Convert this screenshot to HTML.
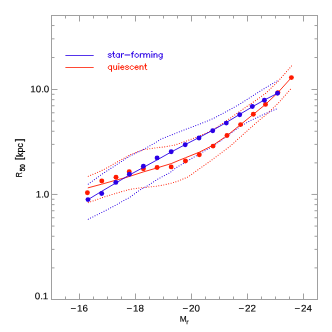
<!DOCTYPE html>
<html><head><meta charset="utf-8"><title>R50 vs Mr</title>
<style>
html,body{margin:0;padding:0;background:#fff;}
body{width:332px;height:332px;position:relative;overflow:hidden;font-family:"Liberation Sans",sans-serif;}
</style></head><body>
<svg width="332" height="332" viewBox="0 0 332 332" style="position:absolute;left:0;top:0">
<rect x="51.50" y="15.50" width="266.00" height="284.00" fill="none" stroke="#a0a0a0" stroke-width="1.00"/>
<path d="M65.50 299.50V296.50M65.50 15.50V18.50M79.50 299.50V293.50M79.50 15.50V21.50M93.50 299.50V296.50M93.50 15.50V18.50M107.50 299.50V296.50M107.50 15.50V18.50M121.50 299.50V296.50M121.50 15.50V18.50M135.50 299.50V293.50M135.50 15.50V21.50M149.50 299.50V296.50M149.50 15.50V18.50M163.50 299.50V296.50M163.50 15.50V18.50M177.50 299.50V296.50M177.50 15.50V18.50M191.50 299.50V293.50M191.50 15.50V21.50M205.50 299.50V296.50M205.50 15.50V18.50M219.50 299.50V296.50M219.50 15.50V18.50M233.50 299.50V296.50M233.50 15.50V18.50M247.50 299.50V293.50M247.50 15.50V21.50M261.50 299.50V296.50M261.50 15.50V18.50M275.50 299.50V296.50M275.50 15.50V18.50M289.50 299.50V296.50M289.50 15.50V18.50M303.50 299.50V293.50M303.50 15.50V21.50M51.50 267.88H54.50M317.50 267.88H314.50M51.50 249.38H54.50M317.50 249.38H314.50M51.50 236.25H54.50M317.50 236.25H314.50M51.50 226.07H54.50M317.50 226.07H314.50M51.50 217.76H54.50M317.50 217.76H314.50M51.50 210.72H54.50M317.50 210.72H314.50M51.50 204.63H54.50M317.50 204.63H314.50M51.50 199.26H54.50M317.50 199.26H314.50M51.50 194.45H57.50M317.50 194.45H311.50M51.50 162.86H54.50M317.50 162.86H314.50M51.50 144.38H54.50M317.50 144.38H314.50M51.50 131.26H54.50M317.50 131.26H314.50M51.50 121.09H54.50M317.50 121.09H314.50M51.50 112.78H54.50M317.50 112.78H314.50M51.50 105.76H54.50M317.50 105.76H314.50M51.50 99.67H54.50M317.50 99.67H314.50M51.50 94.30H54.50M317.50 94.30H314.50M51.50 89.50H57.50M317.50 89.50H311.50M51.50 57.53H54.50M317.50 57.53H314.50M51.50 38.83H54.50M317.50 38.83H314.50M51.50 25.56H54.50M317.50 25.56H314.50" fill="none" stroke="#a0a0a0" stroke-width="1.00"/>
<path d="M88.3 176.3 L100.9 171.0 L107.9 167.4 L115.8 162.8 L129.8 155.0 L143.0 149.7 L150.0 148.7 L157.1 147.7 L165.0 146.8 L175.0 145.0 L185.6 141.3 L197.7 136.8 L212.7 130.0 L229.4 118.8 L239.7 111.5 L246.3 106.9 L256.4 100.0 L265.6 93.3 L277.4 82.0 L291.7 65.8" fill="none" stroke="#ff1a00" stroke-width="1.10" stroke-linejoin="round" stroke-linecap="round" stroke-dasharray="0.01 2.5"/>
<path d="M88.3 202.6 L104.1 197.0 L120.0 192.1 L129.7 189.4 L140.0 187.9 L147.1 187.2 L156.3 186.2 L164.1 184.9 L170.0 183.5 L176.0 181.8 L180.0 180.3 L188.1 176.9 L198.4 169.5 L209.7 161.5 L215.8 157.0 L229.9 146.4 L245.8 132.1 L256.0 123.0 L268.3 112.8 L278.4 103.0 L291.7 87.9" fill="none" stroke="#ff1a00" stroke-width="1.10" stroke-linejoin="round" stroke-linecap="round" stroke-dasharray="0.01 2.5"/>
<path d="M88.3 184.1 L101.8 174.3 L107.9 170.3 L115.8 165.2 L129.8 156.0 L143.0 149.7 L157.1 141.7 L160.0 139.5 L174.7 133.7 L185.2 129.5 L200.0 124.0 L212.7 118.8 L225.6 112.0 L239.7 104.2 L255.0 94.4 L264.5 88.4 L278.0 80.4" fill="none" stroke="#2a00e6" stroke-width="1.10" stroke-linejoin="round" stroke-linecap="round" stroke-dasharray="0.01 2.5"/>
<path d="M88.3 219.2 L102.6 212.1 L117.7 204.1 L125.3 199.7 L129.7 197.4 L140.0 189.9 L147.1 186.1 L158.0 179.0 L169.7 172.8 L175.1 168.4 L190.1 159.4 L209.7 148.0 L220.0 141.3 L230.0 133.8 L241.1 125.8 L249.7 121.0 L264.5 114.0 L277.4 108.6" fill="none" stroke="#2a00e6" stroke-width="1.10" stroke-linejoin="round" stroke-linecap="round" stroke-dasharray="0.01 2.5"/>
<path d="M87.8 187.9 L101.7 184.2 L115.8 180.2 L125.7 177.6 L140.0 173.0 L143.4 171.9 L157.1 167.9 L171.2 163.6 L179.8 160.0 L185.6 157.7 L199.3 152.2 L213.1 145.2 L224.6 137.3 L227.0 135.6 L240.6 124.6 L253.3 114.3 L265.5 104.4 L277.9 92.6 L291.4 77.6" fill="none" stroke="#ff1a00" stroke-width="0.90" stroke-linejoin="round"/>
<circle cx="87.4" cy="192.7" r="2.45" fill="#ff1a00"/>
<circle cx="101.8" cy="181.0" r="2.45" fill="#ff1a00"/>
<circle cx="116.0" cy="177.3" r="2.45" fill="#ff1a00"/>
<circle cx="129.2" cy="171.8" r="2.45" fill="#ff1a00"/>
<circle cx="143.4" cy="168.7" r="2.45" fill="#ff1a00"/>
<circle cx="157.1" cy="167.5" r="2.45" fill="#ff1a00"/>
<circle cx="171.2" cy="166.9" r="2.45" fill="#ff1a00"/>
<circle cx="185.4" cy="161.0" r="2.45" fill="#ff1a00"/>
<circle cx="199.3" cy="154.8" r="2.45" fill="#ff1a00"/>
<circle cx="213.1" cy="146.1" r="2.45" fill="#ff1a00"/>
<circle cx="227.0" cy="135.5" r="2.45" fill="#ff1a00"/>
<circle cx="240.6" cy="124.6" r="2.45" fill="#ff1a00"/>
<circle cx="253.3" cy="114.3" r="2.45" fill="#ff1a00"/>
<circle cx="265.5" cy="104.4" r="2.45" fill="#ff1a00"/>
<circle cx="277.9" cy="92.6" r="2.45" fill="#ff1a00"/>
<circle cx="291.4" cy="77.6" r="2.45" fill="#ff1a00"/>
<path d="M88.0 199.6 L101.7 191.3 L115.8 183.0 L129.4 175.0 L143.4 167.4 L157.1 159.9 L171.2 152.0 L185.2 144.6 L199.0 137.5 L212.7 130.3 L226.3 122.5 L239.7 114.4 L252.3 106.8 L264.4 100.0 L277.5 93.3" fill="none" stroke="#2a00e6" stroke-width="0.90" stroke-linejoin="round"/>
<circle cx="88.0" cy="199.6" r="2.45" fill="#2a00e6"/>
<circle cx="101.7" cy="193.5" r="2.45" fill="#2a00e6"/>
<circle cx="115.8" cy="182.4" r="2.45" fill="#2a00e6"/>
<circle cx="129.4" cy="174.2" r="2.45" fill="#2a00e6"/>
<circle cx="143.4" cy="166.3" r="2.45" fill="#2a00e6"/>
<circle cx="157.1" cy="157.9" r="2.45" fill="#2a00e6"/>
<circle cx="171.2" cy="151.7" r="2.45" fill="#2a00e6"/>
<circle cx="185.2" cy="144.7" r="2.45" fill="#2a00e6"/>
<circle cx="199.0" cy="138.0" r="2.45" fill="#2a00e6"/>
<circle cx="212.7" cy="130.7" r="2.45" fill="#2a00e6"/>
<circle cx="226.3" cy="123.1" r="2.45" fill="#2a00e6"/>
<circle cx="239.7" cy="114.7" r="2.45" fill="#2a00e6"/>
<circle cx="252.3" cy="106.5" r="2.45" fill="#2a00e6"/>
<circle cx="264.4" cy="100.2" r="2.45" fill="#2a00e6"/>
<circle cx="277.5" cy="93.3" r="2.45" fill="#2a00e6"/>
<path d="M65.4 55.5H93.7" stroke="#2a00e6" stroke-width="0.8"/>
<path d="M65.4 67.5H93.7" stroke="#ff1a00" stroke-width="0.8"/>
<g role="img" aria-label="star-forming"><title>star-forming</title><path d="M111.27 54.44 L111.00 53.90 L110.19 53.63 L109.38 53.63 L108.58 53.90 L108.31 54.44 L108.58 54.98 L109.11 55.25 L110.46 55.52 L111.00 55.79 L111.27 56.32 L111.27 56.59 L111.00 57.13 L110.19 57.40 L109.38 57.40 L108.58 57.13 L108.31 56.59 M113.42 51.75 L113.42 56.32 L113.69 57.13 L114.23 57.40 L114.76 57.40 M112.61 53.63 L114.49 53.63 M119.34 53.63 L119.34 57.40 M119.34 54.44 L118.80 53.90 L118.26 53.63 L117.45 53.63 L116.92 53.90 L116.38 54.44 L116.11 55.25 L116.11 55.79 L116.38 56.59 L116.92 57.13 L117.45 57.40 L118.26 57.40 L118.80 57.13 L119.34 56.59 M121.49 53.63 L121.49 57.40 M121.49 55.25 L121.76 54.44 L122.30 53.90 L122.83 53.63 L123.64 53.63 M124.98 54.98 L129.83 54.98 M133.59 51.75 L133.06 51.75 L132.52 52.02 L132.25 52.83 L132.25 57.40 M131.44 53.63 L133.32 53.63 M136.28 53.63 L135.75 53.90 L135.21 54.44 L134.94 55.25 L134.94 55.79 L135.21 56.59 L135.75 57.13 L136.28 57.40 L137.09 57.40 L137.63 57.13 L138.17 56.59 L138.44 55.79 L138.44 55.25 L138.17 54.44 L137.63 53.90 L137.09 53.63 L136.28 53.63 M140.32 53.63 L140.32 57.40 M140.32 55.25 L140.59 54.44 L141.13 53.90 L141.66 53.63 L142.47 53.63 M143.82 53.63 L143.82 57.40 M143.82 54.71 L144.62 53.90 L145.16 53.63 L145.97 53.63 L146.51 53.90 L146.77 54.71 L146.77 57.40 M146.77 54.71 L147.58 53.90 L148.12 53.63 L148.93 53.63 L149.46 53.90 L149.73 54.71 L149.73 57.40 M151.62 51.75 L151.89 52.02 L152.15 51.75 L151.89 51.48 L151.62 51.75 M151.89 53.63 L151.89 57.40 M154.04 53.63 L154.04 57.40 M154.04 54.71 L154.84 53.90 L155.38 53.63 L156.19 53.63 L156.73 53.90 L157.00 54.71 L157.00 57.40 M162.11 53.63 L162.11 57.94 L161.84 58.74 L161.57 59.01 L161.03 59.28 L160.22 59.28 L159.69 59.01 M162.11 54.44 L161.57 53.90 L161.03 53.63 L160.22 53.63 L159.69 53.90 L159.15 54.44 L158.88 55.25 L158.88 55.79 L159.15 56.59 L159.69 57.13 L160.22 57.40 L161.03 57.40 L161.57 57.13 L162.11 56.59" fill="none" stroke="#2a00e6" stroke-width="1.00" stroke-linecap="round" stroke-linejoin="round"/></g>
<g role="img" aria-label="quiescent"><title>quiescent</title><path d="M111.53 65.73 L111.53 71.38 M111.53 66.54 L111.00 66.00 L110.46 65.73 L109.65 65.73 L109.11 66.00 L108.58 66.54 L108.31 67.35 L108.31 67.89 L108.58 68.69 L109.11 69.23 L109.65 69.50 L110.46 69.50 L111.00 69.23 L111.53 68.69 M113.69 65.73 L113.69 68.42 L113.96 69.23 L114.49 69.50 L115.30 69.50 L115.84 69.23 L116.65 68.42 M116.65 65.73 L116.65 69.50 M118.53 63.85 L118.80 64.12 L119.07 63.85 L118.80 63.58 L118.53 63.85 M118.80 65.73 L118.80 69.50 M120.68 67.35 L123.91 67.35 L123.91 66.81 L123.64 66.27 L123.37 66.00 L122.83 65.73 L122.03 65.73 L121.49 66.00 L120.95 66.54 L120.68 67.35 L120.68 67.89 L120.95 68.69 L121.49 69.23 L122.03 69.50 L122.83 69.50 L123.37 69.23 L123.91 68.69 M128.48 66.54 L128.21 66.00 L127.41 65.73 L126.60 65.73 L125.79 66.00 L125.52 66.54 L125.79 67.08 L126.33 67.35 L127.68 67.62 L128.21 67.89 L128.48 68.42 L128.48 68.69 L128.21 69.23 L127.41 69.50 L126.60 69.50 L125.79 69.23 L125.52 68.69 M133.32 66.54 L132.79 66.00 L132.25 65.73 L131.44 65.73 L130.90 66.00 L130.37 66.54 L130.10 67.35 L130.10 67.89 L130.37 68.69 L130.90 69.23 L131.44 69.50 L132.25 69.50 L132.79 69.23 L133.32 68.69 M134.94 67.35 L138.17 67.35 L138.17 66.81 L137.90 66.27 L137.63 66.00 L137.09 65.73 L136.28 65.73 L135.75 66.00 L135.21 66.54 L134.94 67.35 L134.94 67.89 L135.21 68.69 L135.75 69.23 L136.28 69.50 L137.09 69.50 L137.63 69.23 L138.17 68.69 M140.05 65.73 L140.05 69.50 M140.05 66.81 L140.86 66.00 L141.39 65.73 L142.20 65.73 L142.74 66.00 L143.01 66.81 L143.01 69.50 M145.43 63.85 L145.43 68.42 L145.70 69.23 L146.24 69.50 L146.77 69.50 M144.62 65.73 L146.51 65.73" fill="none" stroke="#ff1a00" stroke-width="1.00" stroke-linecap="round" stroke-linejoin="round"/></g>
</svg>
<svg width="332" height="332" viewBox="0 0 332 332" style="position:absolute;left:0;top:0;will-change:transform" font-family="Liberation Sans, sans-serif" fill="#000" stroke="#000" stroke-width="0.12">
<text transform="translate(79.20,311.40) rotate(0.03) scale(1.030,1)" font-size="9.50" text-anchor="middle">−<tspan dx="0.7">16</tspan></text>
<text transform="translate(135.20,311.40) rotate(0.03) scale(1.030,1)" font-size="9.50" text-anchor="middle">−<tspan dx="0.7">18</tspan></text>
<text transform="translate(191.20,311.40) rotate(0.03) scale(1.030,1)" font-size="9.50" text-anchor="middle">−<tspan dx="0.7">20</tspan></text>
<text transform="translate(247.20,311.40) rotate(0.03) scale(1.030,1)" font-size="9.50" text-anchor="middle">−<tspan dx="0.7">22</tspan></text>
<text transform="translate(303.20,311.40) rotate(0.03) scale(1.030,1)" font-size="9.50" text-anchor="middle">−<tspan dx="0.7">24</tspan></text>
<text transform="translate(49.30,92.30) rotate(0.03) scale(1.030,1)" font-size="9.50" text-anchor="end">10.0</text>
<text transform="translate(49.30,197.40) rotate(0.03) scale(1.030,1)" font-size="9.50" text-anchor="end">1.0</text>
<text transform="translate(48.30,299.30) rotate(0.03) scale(1.030,1)" font-size="9.50" text-anchor="end">0.1</text>
<text transform="translate(179.8,321.8) rotate(0.03)" font-size="8.3">M</text>
<text transform="translate(186.3,324.3) rotate(0.03)" font-size="6.8">r</text>
<text transform="translate(22.20,177.15) rotate(-90) scale(0.780,1)" font-size="9.00" stroke-width="0.20">R</text>
<text transform="translate(24.90,171.30) rotate(-90) scale(0.950,1)" font-size="6.60" stroke-width="0.35">50</text>
<text transform="translate(22.60,160.30) rotate(-90) scale(1.000,1)" font-size="10.50" stroke-width="0.20">[</text>
<text transform="translate(22.80,157.10) rotate(-90) scale(1.000,1)" font-size="9.00" stroke-width="0.20">kpc</text>
<text transform="translate(22.60,141.50) rotate(-90) scale(1.000,1)" font-size="10.50" stroke-width="0.20">]</text>
</svg>
</body></html>
